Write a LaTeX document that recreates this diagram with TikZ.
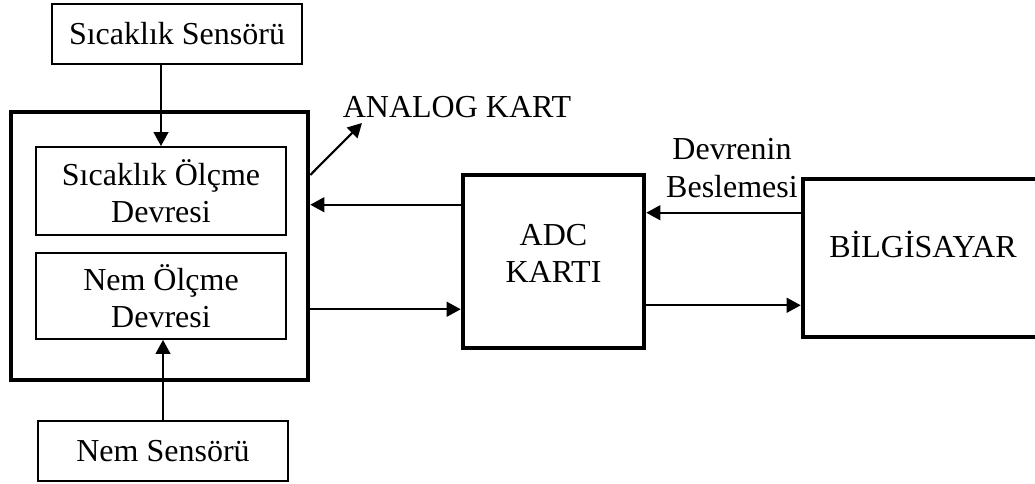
\documentclass[tikz,border=0pt]{standalone}
\usepackage{fontspec}
\setmainfont{Liberation Serif}
\usetikzlibrary{arrows.meta,calc}
\begin{document}
\begin{tikzpicture}[x=.75pt,y=-.75pt,
  font=\fontsize{24}{28}\selectfont,
  box/.style={draw,line width=1.4pt,align=center,inner sep=0pt},
  thickbox/.style={draw,line width=3.4pt,inner sep=0pt},
  conn/.style={line width=1.6pt,-{Triangle[length=10.5pt,width=11pt]}}]
\useasboundingbox (0,0) rectangle (1035,484);
\clip (0,0) rectangle (1035,484);
% analog card with its two measuring circuits
\node[thickbox,minimum width=222.75pt,minimum height=201pt] (analog) at (159.5,246) {};
\node[box,minimum width=187.5pt,minimum height=66pt] (olc1) at (161,191) {Sıcaklık Ölçme\\Devresi};
\node[box,minimum width=187.5pt,minimum height=64.5pt] (olc2) at (161,296) {Nem Ölçme\\Devresi};
% sensors
\node[box,minimum width=187.5pt,minimum height=45pt] (sens1) at (177,34) {Sıcaklık Sensörü};
\node[box,minimum width=187.5pt,minimum height=45pt] (nemsens) at (163,451) {Nem Sensörü};
% ADC card and computer
\node[thickbox,minimum width=135.75pt,minimum height=129.75pt] (adc) at (553.5,261.5) {};
\node[align=center,inner sep=0pt] (adctext) at (553.5,253.5) {ADC\\KARTI};
\node[thickbox,minimum width=181.5pt,minimum height=118.5pt] (pc) at (924,258) {};
\node[inner sep=0pt] (pctext) at (923,244) {BİLGİSAYAR};
% labels
\node[inner sep=0pt] (lblanalog) at (457,107) {ANALOG KART};
\node[align=center,inner sep=0pt] (lblpower) at (732,168) {Devrenin\\Beslemesi};
\coordinate (tip) at (362,123);
% connections
\draw[conn] (olc1.north |- sens1.south) -- (olc1.north);
\draw[conn] (nemsens.north) -- (nemsens.north |- olc2.south);
\draw[conn] ($(analog.east)+(0,-71)$) -- (tip);
\draw[conn] ($(adc.north west)+(0,32)$) coordinate (adcout) -- (adcout -| analog.east);
\coordinate (adcin) at ($(adc.south west)+(0,-41)$);
\draw[conn] (analog.east |- adcin) -- (adcin);
\draw[conn] ($(pc.north west)+(0,36)$) coordinate (pcout) -- (pcout -| adc.east);
\coordinate (pcin) at ($(pc.south west)+(0,-34)$);
\draw[conn] (adc.east |- pcin) -- (pcin);
\end{tikzpicture}
\end{document}
